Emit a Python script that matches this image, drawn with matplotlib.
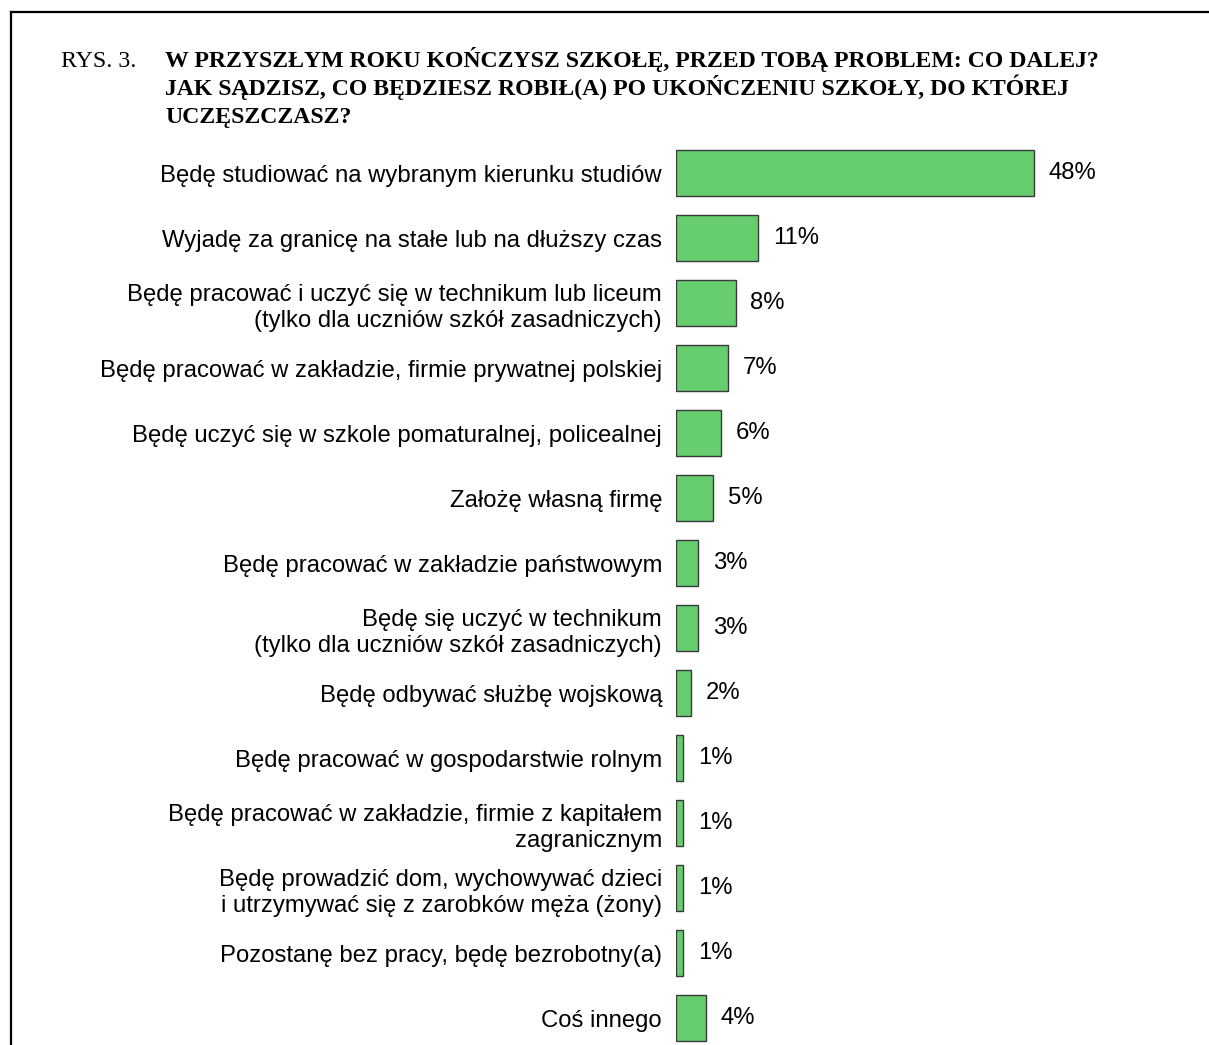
import matplotlib as mpl
mpl.use('Agg')
import matplotlib.pyplot as plt
from matplotlib.lines import Line2D

# answers, top to bottom, and their shares in percent
labels = [
    "Będę studiować na wybranym kierunku studiów",
    "Wyjadę za granicę na stałe lub na dłuższy czas",
    "Będę pracować i uczyć się w technikum lub liceum\n(tylko dla uczniów szkół zasadniczych)",
    "Będę pracować w zakładzie, firmie prywatnej polskiej",
    "Będę uczyć się w szkole pomaturalnej, policealnej",
    "Założę własną firmę",
    "Będę pracować w zakładzie państwowym",
    "Będę się uczyć w technikum\n(tylko dla uczniów szkół zasadniczych)",
    "Będę odbywać służbę wojskową",
    "Będę pracować w gospodarstwie rolnym",
    "Będę pracować w zakładzie, firmie z kapitałem\nzagranicznym",
    "Będę prowadzić dom, wychowywać dzieci\ni utrzymywać się z zarobków męża (żony)",
    "Pozostanę bez pracy, będę bezrobotny(a)",
    "Coś innego",
]
values = [48, 11, 8, 7, 6, 5, 3, 3, 2, 1, 1, 1, 1, 4]

figTag = "RYS. 3."
titleLines = [
    "W PRZYSZŁYM ROKU KOŃCZYSZ SZKOŁĘ, PRZED TOBĄ PROBLEM: CO DALEJ?",
    "JAK SĄDZISZ, CO BĘDZIESZ ROBIŁ(A) PO UKOŃCZENIU SZKOŁY, DO KTÓREJ",
    "UCZĘSZCZASZ?",
]

W, H = 1209, 1045
fig = plt.figure(figsize=(W / 100, H / 100), dpi=100)

# axes placed so that bars start at x=676px, rows 65px apart from y=173px
n = len(values)
top_px = 173 - 32.5
bot_px = top_px + 65 * n
ax = fig.add_axes([676 / W, 1 - bot_px / H, 60 * 7.46 / W, (bot_px - top_px) / H])

ypos = list(range(n))
ax.barh(ypos, values, height=0.7, color='#66CE6F', edgecolor='#3a3a3a', linewidth=1.0)
ax.set_xlim(0, 60)
ax.set_ylim(n - 0.5, -0.5)

ax.set_yticks(ypos)
ax.set_yticklabels(labels, fontsize=17.2, family='Liberation Sans', linespacing=1.28,
                   multialignment='right')
ax.tick_params(axis='y', length=0, pad=10)
ax.set_xticks([])
for s in ax.spines.values():
    s.set_visible(False)

for y, v in zip(ypos, values):
    ax.annotate("%d%%" % v, (v, y), xytext=(10.5, 0), textcoords='offset points',
                ha='left', va='center', fontsize=17.2, family='Liberation Sans')

# title, one line at a time
fig.text(61 / W, 1 - 67 / H, figTag, fontsize=17.2, family='Liberation Serif',
         ha='left', va='baseline')
for i, line in enumerate(titleLines):
    fig.text(165 / W, 1 - (67 + 28 * i) / H, line, fontsize=17.1, family='Liberation Serif',
             weight='bold', ha='left', va='baseline')

# frame (top and left edges visible)
fig.add_artist(Line2D([10.5 / W, 1.0], [1 - 11.5 / H, 1 - 11.5 / H], color='black', lw=1.6))
fig.add_artist(Line2D([10.5 / W, 10.5 / W], [1 - 11.5 / H, 0], color='black', lw=1.6))

plt.savefig('out.png', dpi=100)
